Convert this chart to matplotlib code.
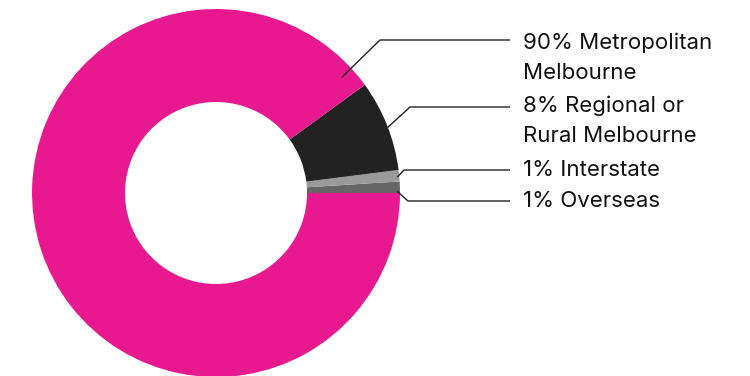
import numpy as np
import matplotlib
matplotlib.use("Agg")
import matplotlib.pyplot as plt

# Data
categories = ["Overseas", "Interstate", "Regional or\nRural Melbourne", "Metropolitan\nMelbourne"]
values = [1, 1, 8, 90]
colors = ["#666666", "#9a9a9b", "#222222", "#e8198f"]

W, H = 750, 376
fig = plt.figure(figsize=(W / 100, H / 100), dpi=100)
ax = fig.add_axes([0, 0, 1, 1])

cx, cy = 216, H - 193
R, width = 184, 93
wedges, _ = ax.pie(values, colors=colors, startangle=0, counterclock=True,
                   center=(cx, cy), radius=R, frame=True,
                   wedgeprops=dict(width=width, linewidth=0))
ax.set_xlim(0, W)
ax.set_ylim(0, H)
ax.set_aspect("equal")
ax.axis("off")

# label layout: (anchor angle deg, anchor radius, elbow x, elbow y(px from top), text y)
layout = [
    (0.6, 181, 408, 201, 201),
    (5.0, 182, 404, 170, 170),
    (19.9, 176, 410, 107, 121),
    (42.6, 171, 380, 40, 58),
]
line_end = 510
text_x = 523
for (ang, rr, ex, ey, ty), cat, v in zip(layout, categories, values):
    a = np.deg2rad(ang)
    sx, sy = cx + rr * np.cos(a), cy + rr * np.sin(a)
    ax.plot([sx, ex, line_end], [sy, H - ey, H - ey], color="#222222", lw=1.0,
            solid_capstyle="butt")
    ax.text(text_x, H - ty, f"{v}% {cat}", fontsize=16, family="Inter",
            color="#111111", va="center", ha="left", linespacing=1.65)

fig.savefig("out.png", dpi=100)
